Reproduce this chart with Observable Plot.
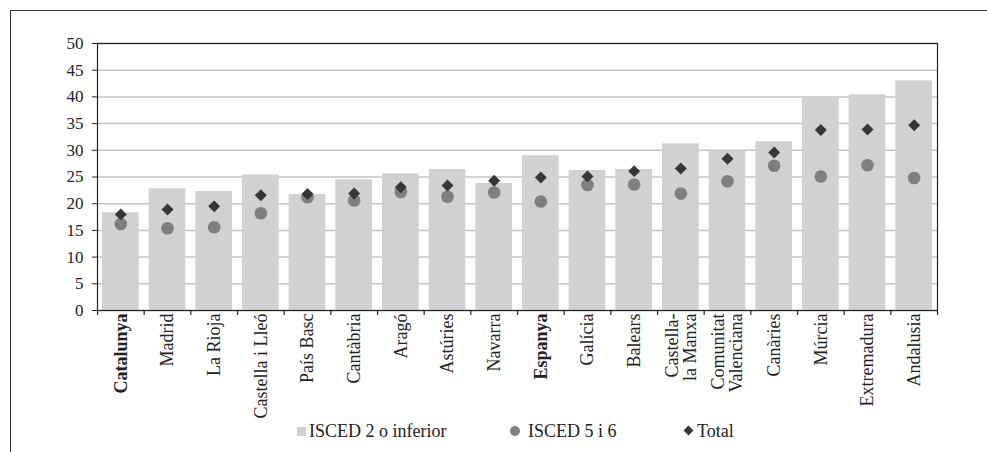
<!DOCTYPE html>
<html>
<head>
<meta charset="utf-8">
<script src="https://cdn.jsdelivr.net/npm/d3@7"></script>
<script src="https://cdn.jsdelivr.net/npm/@observablehq/plot@0.6"></script>
<style>
  html, body { margin: 0; padding: 0; background: #fff; overflow: hidden; }
  body { width: 987px; height: 452px; position: relative; font-family: 'Liberation Serif', serif; }
  #frame { position: absolute; left: 10px; top: 10px; width: 1200px; height: 600px;
           border-left: 1.5px solid #333; border-top: 1.5px solid #333; }
  #chart { position: absolute; left: 0; top: 0; }
  #legend { position: absolute; left: 0; top: 420px; width: 987px; height: 24px; font-size: 18px; color: #222; }
  .item { position: absolute; top: 0; line-height: 22px; white-space: nowrap; }
  .sw { position: absolute; }
  #chart svg text { font-family: 'Liberation Serif', serif; }
</style>
</head>
<body>
<div id="frame"></div>
<div id="chart"></div>
<div id="legend">
  <span class="sw" style="left:297px;top:7px;width:9px;height:9px;background:#d0d1d3"></span>
  <span class="item" style="left:309px">ISCED 2 o inferior</span>
  <span class="sw" style="left:510px;top:6px;width:10px;height:10px;border-radius:50%;background:#7f7f7f"></span>
  <span class="item" style="left:528px">ISCED 5 i 6</span>
  <span class="sw" style="left:685px;top:7px;width:7px;height:7px;background:#363636;transform:rotate(45deg)"></span>
  <span class="item" style="left:697px">Total</span>
</div>
<script>
const categories = ["Catalunya","Madrid","La Rioja","Castella i Lleó","País Basc","Cantàbria","Aragó","Astúries","Navarra","Espanya","Galícia","Balears","Castella-\nla Manxa","Comunitat\nValenciana","Canàries","Múrcia","Extremadura","Andalusia"];
const isced2 = [18.3,22.8,22.3,25.4,21.7,24.5,25.6,26.4,23.8,29.0,26.2,26.4,31.2,29.9,31.6,40.0,40.4,43.0];
const isced56 = [16.2,15.4,15.6,18.2,21.2,20.6,22.2,21.3,22.1,20.4,23.5,23.6,21.9,24.2,27.1,25.1,27.2,24.8];
const total = [18.0,18.9,19.5,21.6,21.8,21.9,23.1,23.4,24.3,24.9,25.1,26.1,26.6,28.4,29.6,33.8,33.9,34.7];
const boldCategories = ["Catalunya","Espanya"];
const yTicks = [0,5,10,15,20,25,30,35,40,45,50];

const rows = categories.map((c, i) => ({cat: c, isced2: isced2[i], isced56: isced56[i], total: total[i]}));

const W = 987, H = 420, mL = 97, mR = 50, mT = 43, mB = 110;
const step = (W - mL - mR) / categories.length;
const FONT = "'Liberation Serif', serif";

const plot = Plot.plot({
  width: W, height: H,
  marginLeft: mL, marginRight: mR, marginTop: mT, marginBottom: mB,
  style: {fontFamily: FONT, fontSize: "17px", color: "#222", background: "transparent"},
  x: {domain: categories, paddingInner: 0.214, paddingOuter: 0.107, round: false, axis: null},
  y: {domain: [0, 50], ticks: yTicks, axis: null},
  marks: [
    Plot.gridY(yTicks, {stroke: "#c4c4c4", strokeOpacity: 1, strokeWidth: 1.5}),
    Plot.barY(rows, {x: "cat", y: "isced2", fill: "#d0d1d3"}),
    Plot.frame({stroke: "#222", strokeWidth: 1.2}),
    Plot.axisY(yTicks, {tickSize: 5, tickPadding: 9, fontSize: 17, stroke: "#222", fontFamily: FONT}),
    Plot.ruleX(categories, {x: d => d, y1: 0, y2: 0, dx: -step / 2, insetBottom: -5, stroke: "#222", strokeWidth: 1.2}),
    Plot.ruleX(categories.slice(-1), {x: d => d, y1: 0, y2: 0, dx: step / 2, insetBottom: -5, stroke: "#222", strokeWidth: 1.2}),
    Plot.dot(rows, {x: "cat", y: "isced56", r: 6.3, fill: "#7f7f7f", stroke: "none"}),
    Plot.dot(rows, {x: "cat", y: "total", r: 5.4, symbol: "diamond2", fill: "#363636", stroke: "none"}),
    Plot.text(categories.filter(c => !boldCategories.includes(c)), {
      x: d => d, y: 0, text: d => d, rotate: -90, textAnchor: "end", lineAnchor: "middle",
      dy: 3, fontSize: 18, fill: "#222", fontWeight: "normal", fontFamily: FONT
    }),
    Plot.text(categories.filter(c => boldCategories.includes(c)), {
      x: d => d, y: 0, text: d => d, rotate: -90, textAnchor: "end", lineAnchor: "middle",
      dy: 3, fontSize: 18, fill: "#222", fontWeight: "bold", fontFamily: FONT
    })
  ]
});
document.getElementById("chart").appendChild(plot);
</script>
</body>
</html>
